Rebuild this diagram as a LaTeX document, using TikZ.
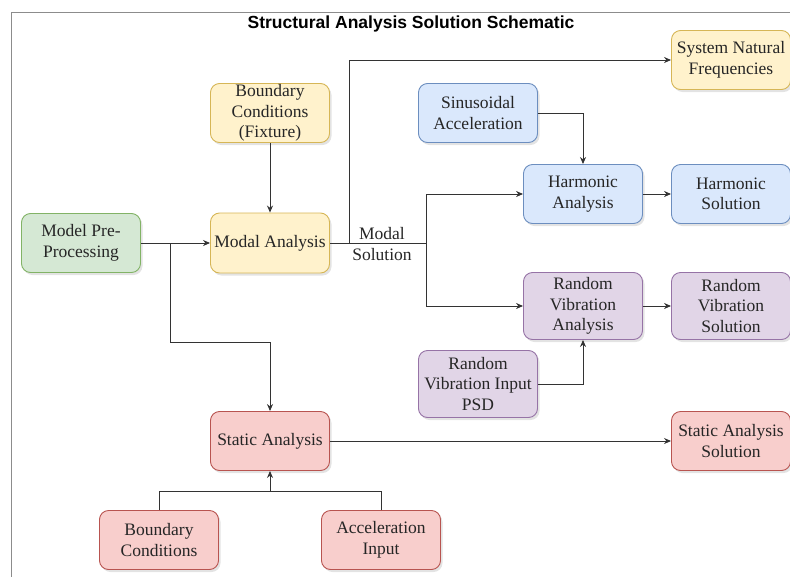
\documentclass[tikz,border=0pt]{standalone}
\usepackage{fontspec}
\setmainfont{Liberation Serif}
\newfontfamily\headfont{Liberation Sans}
\usetikzlibrary{arrows.meta,shadows}

\definecolor{grnF}{HTML}{D5E8D4}\definecolor{grnD}{HTML}{82B366}
\definecolor{ylwF}{HTML}{FFF2CC}\definecolor{ylwD}{HTML}{D6B656}
\definecolor{bluF}{HTML}{DAE8FC}\definecolor{bluD}{HTML}{6C8EBF}
\definecolor{purF}{HTML}{E1D5E7}\definecolor{purD}{HTML}{9673A6}
\definecolor{redF}{HTML}{F8CECC}\definecolor{redD}{HTML}{B85450}
\definecolor{wire}{HTML}{333333}

\tikzset{
  box/.style={rectangle, rounded corners=9pt, line width=0.9pt,
    minimum width=119pt, minimum height=59pt, inner sep=1pt,
    align=center, font=\fontsize{17.5}{20.5}\selectfont, text=black!85,
    drop shadow={shadow xshift=2pt, shadow yshift=-2.5pt, opacity=0.22}},
  green/.style={box, fill=grnF, draw=grnD},
  yellow/.style={box, fill=ylwF, draw=ylwD},
  blue/.style={box, fill=bluF, draw=bluD},
  purple/.style={box, fill=purF, draw=purD},
  red/.style={box, fill=redF, draw=redD},
  wireline/.style={draw=wire, line width=0.9pt},
  arr/.style={wireline, -{Stealth[length=7pt,width=6pt]}},
}

\begin{document}
\begin{tikzpicture}[x=1pt,y=-1pt]
\useasboundingbox (0,0) rectangle (790,576);

% outer frame
\draw[draw=gray!90, line width=0.9pt] (11,580) -- (11,12) -- (795,12);
\node[font=\headfont\bfseries\fontsize{17.5}{20}\selectfont] (title) at (411,24)
  {Structural Analysis Solution Schematic};

% nodes
\node[green]  (pre)   at (81,243)  {Model Pre-\\Processing};
\node[yellow] (bcfix) at (270,113) {Boundary\\Conditions\\(Fixture)};
\node[yellow, minimum height=60pt] (modal) at (270,243) {Modal Analysis};
\node[yellow] (snf)   at (731,60)  {System Natural\\Frequencies};
\node[blue]   (sin)   at (478,113) {Sinusoidal\\Acceleration};
\node[blue]   (harm)  at (583,194) {Harmonic\\Analysis};
\node[blue]   (hsol)  at (731,194) {Harmonic\\Solution};
\node[purple, minimum height=67pt] (rva) at (583,306) {Random\\Vibration\\Analysis};
\node[purple, minimum height=67pt] (rvs) at (731,306) {Random\\Vibration\\Solution};
\node[purple, minimum height=67pt] (psd) at (478,384) {Random\\Vibration Input\\PSD};
\node[red]    (static) at (270,441) {Static Analysis};
\node[red]    (sas)   at (731,441) {Static Analysis\\Solution};
\node[red]    (bcb)   at (159,540) {Boundary\\Conditions};
\node[red]    (acc)   at (381,540) {Acceleration\\Input};

% junction points
\coordinate (split)  at (170,243);
\coordinate (sbend)  at (170,342);
\coordinate (msplit) at (426,243);
\coordinate (mup)    at (349,243);
\coordinate (join)   at (270,491);

% connectors
\draw[arr] (pre) -- (modal);
\draw[arr] (split) -- (sbend) -| (static);
\draw[arr] (bcfix) -- (modal);
\draw[wireline] (modal) -- (msplit);
\draw[arr] (mup) |- (snf);
\draw[arr] (msplit) |- (harm);
\draw[arr] (msplit) |- (rva);
\draw[arr] (sin) -| (harm);
\draw[arr] (harm) -- (hsol);
\draw[arr] (rva) -- (rvs);
\draw[arr] (psd) -| (rva);
\draw[arr] (static) -- (sas);
\draw[wireline] (bcb) |- (join);
\draw[wireline] (acc) |- (join);
\draw[arr] (join) -- (static);

\node[align=center, font=\fontsize{17.5}{20.5}\selectfont, text=black!85, inner sep=0pt]
  (mlabel) at (382,244) {Modal\\Solution};
\end{tikzpicture}
\end{document}
